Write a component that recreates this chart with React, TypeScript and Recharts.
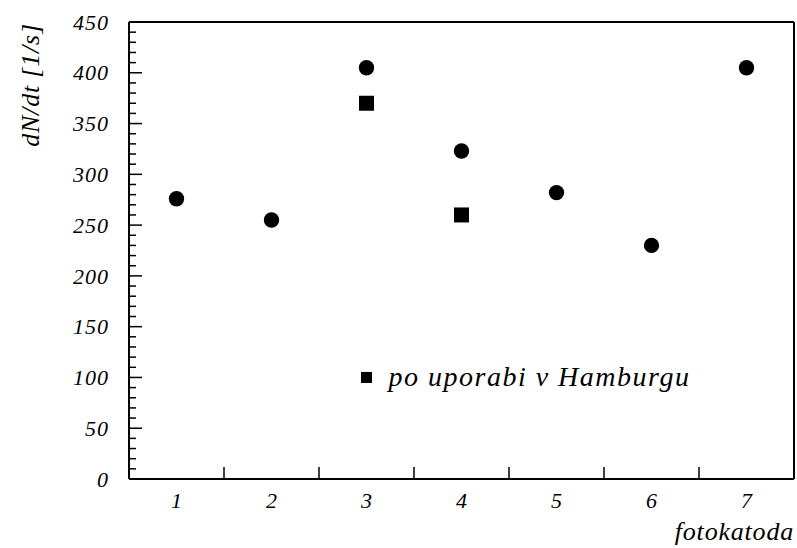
import { ScatterChart, Scatter, XAxis, YAxis, ReferenceLine, ReferenceDot } from 'recharts';

// photocathode index (fotokatoda) and count rate dN/dt [1/s]
const cathodes = [1, 2, 3, 4, 5, 6, 7];
const rateNew = [276, 255, 405, 323, 282, 230, 405];
const usedCathodes = [3, 4];
const rateUsed = [370, 260];

// axis ticks
const xLabelTicks = [1, 2, 3, 4, 5, 6, 7];
const xMarkTicks = [1.5, 2.5, 3.5, 4.5, 5.5, 6.5];
const yMajorTicks = [0, 50, 100, 150, 200, 250, 300, 350, 400, 450];
const yMinorStep = 10;

const legendText = 'po uporabi v Hamburgu';
const LEGEND_X = 3;
const LEGEND_Y = 100;

const INK = '#000';
// Liberation Serif's italic face isn't picked up by name here, the alias is
const serif = (size: number, spacing = 0) => ({
  fontFamily: "'Times New Roman', serif",
  fontStyle: 'italic',
  fontSize: size,
  letterSpacing: spacing,
});

const newData = cathodes.map((c, i) => ({ x: c, y: rateNew[i] }));
const usedData = usedCathodes.map((c, i) => ({ x: c, y: rateUsed[i] }));

const xTicks = [...xLabelTicks, ...xMarkTicks].sort((a, b) => a - b);
const yTicks: number[] = [];
for (let v = 0; v <= yMajorTicks[yMajorTicks.length - 1]; v += yMinorStep) yTicks.push(v);

function XTick(props: any) {
  const { x, y, payload } = props;
  const v = payload.value;
  if (Number.isInteger(v)) {
    return (
      <text x={x} y={y + 29} textAnchor="middle" style={serif(22)} fill={INK}>
        {v}
      </text>
    );
  }
  return <line x1={x} x2={x} y1={y} y2={y - 12} stroke={INK} strokeWidth={1.5} />;
}

function YTick(props: any) {
  const { x, y, payload } = props;
  const v = payload.value;
  const major = yMajorTicks.includes(v);
  return (
    <g>
      <line x1={x} x2={x + (major ? 13 : 7)} y1={y} y2={y} stroke={INK} strokeWidth={1.5} />
      {major && (
        <text x={x - 20} y={y} dy="0.35em" textAnchor="end" style={serif(22, 1)} fill={INK}>
          {v}
        </text>
      )}
    </g>
  );
}

const Dot = (props: any) => <circle cx={props.cx} cy={props.cy} r={7.7} fill={INK} />;
const Square = (props: any) => (
  <rect x={props.cx - 7.5} y={props.cy - 7.5} width={15} height={15} fill={INK} />
);

const LegendMark = (props: any) => (
  <g>
    <rect x={props.cx - 5.5} y={props.cy - 5.5} width={11} height={11} fill={INK} />
    <text x={props.cx + 22} y={props.cy + 8.5} style={serif(28, 1.5)} fill={INK}>
      {legendText}
    </text>
  </g>
);

export default function App() {
  return (
    <div style={{ position: 'absolute', left: 0, top: 0, width: 797, height: 548, background: '#fff' }}>
      <ScatterChart width={797} height={548} margin={{ top: 22, right: 3, bottom: 0, left: 0 }}>
        <XAxis
          type="number"
          dataKey="x"
          domain={[0.5, 7.5]}
          ticks={xTicks}
          interval={0}
          tickSize={0}
          tickMargin={0}
          tickLine={false}
          tick={<XTick />}
          height={69}
          axisLine={{ stroke: INK, strokeWidth: 2 }}
          allowDataOverflow
          label={{
            content: (p: any) => (
              <text
                x={p.viewBox.x + p.viewBox.width}
                y={p.viewBox.y + 61}
                textAnchor="end"
                style={serif(26, 0.8)}
                fill={INK}
              >
                fotokatoda
              </text>
            ),
          }}
        />
        <YAxis
          type="number"
          dataKey="y"
          domain={[0, 450]}
          ticks={yTicks}
          interval={0}
          tickSize={0}
          tickMargin={0}
          tickLine={false}
          tick={<YTick />}
          width={129}
          axisLine={{ stroke: INK, strokeWidth: 2 }}
          allowDataOverflow
          label={{
            content: (p: any) => {
              const cx = p.viewBox.x + 30;
              const cy = p.viewBox.y + 63;
              return (
                <text
                  x={cx}
                  y={cy}
                  dy="0.35em"
                  textAnchor="middle"
                  transform={`rotate(-90 ${cx} ${cy})`}
                  style={serif(26, 0.8)}
                  fill={INK}
                >
                  dN/dt [1/s]
                </text>
              );
            },
          }}
        />
        <ReferenceLine y={450} stroke={INK} strokeWidth={2} />
        <ReferenceLine x={7.5} stroke={INK} strokeWidth={2} />
        <Scatter data={newData} fill={INK} shape={<Dot />} isAnimationActive={false} />
        <Scatter data={usedData} fill={INK} shape={<Square />} isAnimationActive={false} />
        <ReferenceDot x={LEGEND_X} y={LEGEND_Y} shape={<LegendMark />} />
      </ScatterChart>
    </div>
  );
}
